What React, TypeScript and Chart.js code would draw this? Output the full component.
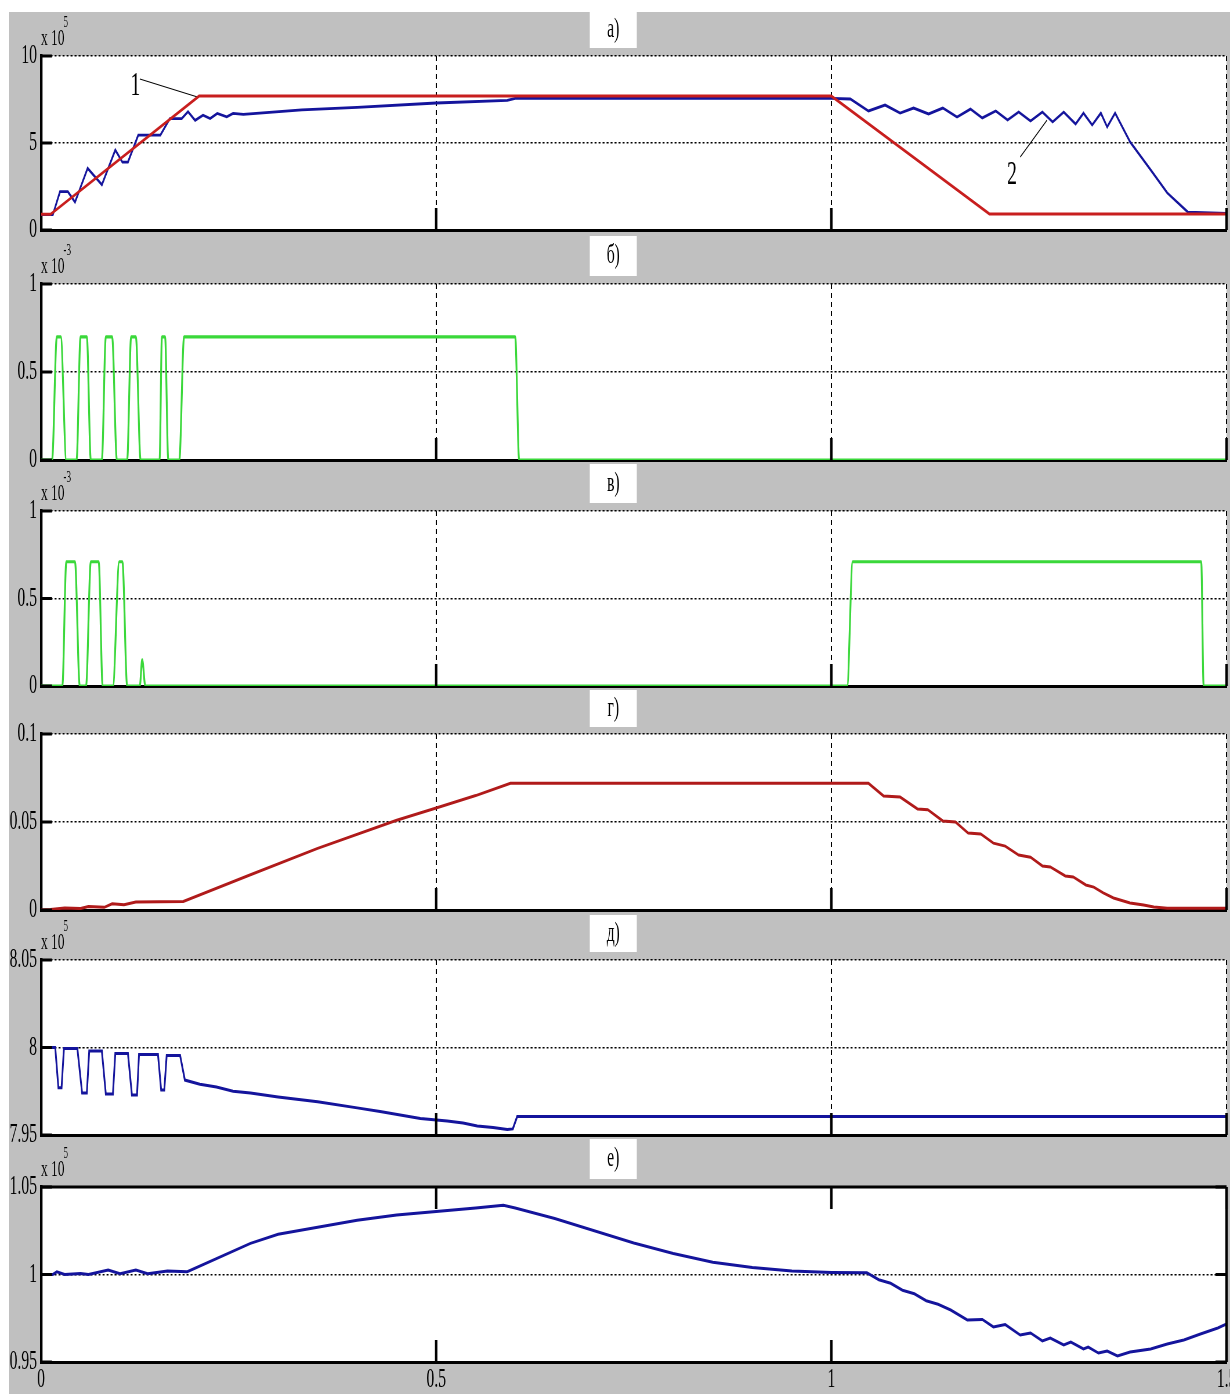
import React, { useEffect, useRef } from 'react';
import { Chart, registerables } from 'chart.js';

Chart.register(...registerables);

// ---------------- data ----------------
const xTickValues = [0, 0.5, 1, 1.5];
const xTickLabels = ['0', '0.5', '1', '1.5'];

// а)
const aTicks = [0, 5, 10];
const aTickLabels = ['0', '5', '10'];
const aRefX = [0, 0.012, 0.2, 1.0, 1.2, 1.5];
const aRefY = [0.9, 0.9, 7.7, 7.7, 0.92, 0.92];
const aRespX = [0, 0.015, 0.024, 0.034, 0.043, 0.059, 0.077, 0.094, 0.103, 0.110, 0.123, 0.151, 0.163, 0.178, 0.186, 0.195, 0.205, 0.214, 0.223, 0.235, 0.243, 0.256, 0.33, 0.4, 0.5, 0.59, 0.6, 1.0,
  1.024, 1.047, 1.068, 1.087, 1.104, 1.123, 1.141, 1.159, 1.176, 1.191, 1.208, 1.223, 1.237, 1.252, 1.267, 1.280, 1.294, 1.309, 1.319, 1.330, 1.341, 1.349, 1.359, 1.378, 1.404, 1.425, 1.451, 1.5];
const aRespY = [0.88, 0.88, 2.2, 2.2, 1.6, 3.55, 2.6, 4.6, 3.9, 3.9, 5.45, 5.45, 6.4, 6.4, 6.8, 6.3, 6.6, 6.4, 6.7, 6.5, 6.7, 6.65, 6.9, 7.05, 7.3, 7.45, 7.57, 7.57,
  7.53, 6.84, 7.18, 6.72, 7.01, 6.67, 7.01, 6.49, 6.95, 6.44, 6.84, 6.32, 6.78, 6.26, 6.78, 6.21, 6.78, 6.09, 6.72, 6.03, 6.72, 5.92, 6.72, 5.06, 3.45, 2.13, 1.03, 0.95];
const aLeader1X = [0.125, 0.197];
const aLeader1Y = [8.68, 7.66];
const aLeader2X = [1.239, 1.273];
const aLeader2Y = [4.2, 6.32];
const aNoteText = ['1', '2'];
const aNoteX = [0.1196, 1.2285];
const aNoteY = [8.28, 3.13];

// б)
const bTicks = [0, 0.5, 1];
const bTickLabels = ['0', '0.5', '1'];
const bX = [0, 0.014, 0.020, 0.025, 0.032, 0.045, 0.050, 0.058, 0.063, 0.077, 0.082, 0.090, 0.096, 0.109, 0.114, 0.120, 0.126, 0.150, 0.153, 0.157, 0.161, 0.175, 0.181, 0.600, 0.605, 1.5];
const bY = [0, 0, 0.7, 0.7, 0, 0, 0.7, 0.7, 0, 0, 0.7, 0.7, 0, 0, 0.7, 0.7, 0, 0, 0.7, 0.7, 0, 0, 0.7, 0.7, 0, 0];

// в)
const cTicks = [0, 0.5, 1];
const cTickLabels = ['0', '0.5', '1'];
const cX = [0, 0.027, 0.032, 0.043, 0.049, 0.057, 0.063, 0.073, 0.078, 0.091, 0.099, 0.103, 0.109, 0.125, 0.128, 0.132, 1.020, 1.027, 1.468, 1.471, 1.5];
const cY = [0, 0, 0.71, 0.71, 0, 0, 0.71, 0.71, 0, 0, 0.71, 0.71, 0, 0, 0.15, 0, 0, 0.71, 0.71, 0, 0];

// г)
const dTicks = [0, 0.05, 0.1];
const dTickLabels = ['0', '0.05', '0.1'];
const dX = [0, 0.012, 0.03, 0.05, 0.06, 0.08, 0.09, 0.105, 0.12, 0.18, 0.265, 0.35, 0.45, 0.5, 0.55, 0.594, 1.047,
  1.066, 1.087, 1.109, 1.122, 1.141, 1.157, 1.173, 1.189, 1.205, 1.220, 1.237, 1.252, 1.267, 1.277, 1.296, 1.306, 1.322, 1.332, 1.344, 1.357, 1.378, 1.395, 1.408, 1.425, 1.5];
const dY = [0, 0.0003, 0.0012, 0.0008, 0.002, 0.0015, 0.0035, 0.003, 0.0045, 0.0048, 0.02, 0.035, 0.051, 0.058, 0.065, 0.072, 0.072,
  0.0648, 0.0642, 0.0574, 0.057, 0.0506, 0.05, 0.0437, 0.0432, 0.038, 0.0363, 0.0312, 0.03, 0.025, 0.0245, 0.0193, 0.0188, 0.0142, 0.013, 0.0097, 0.0068, 0.004, 0.0028, 0.0017, 0.001, 0.001];

// д)
const eTicks = [7.95, 8, 8.05];
const eTickLabels = ['7.95', '8', '8.05'];
const eX = [0, 0.018, 0.022, 0.026, 0.029, 0.046, 0.052, 0.058, 0.061, 0.077, 0.082, 0.091, 0.094, 0.110, 0.115, 0.1215, 0.124, 0.148, 0.152, 0.156, 0.159, 0.176, 0.182,
  0.201, 0.222, 0.243, 0.265, 0.3, 0.35, 0.4, 0.429, 0.48, 0.514, 0.534, 0.552, 0.572, 0.59, 0.597, 0.6025, 1.5];
const eY = [8.0, 8.0, 7.977, 7.977, 7.9994, 7.9994, 7.974, 7.974, 7.998, 7.998, 7.9735, 7.9735, 7.9966, 7.9966, 7.9729, 7.9729, 7.996, 7.996, 7.9757, 7.9757, 7.9954, 7.9954, 7.9814,
  7.979, 7.9774, 7.975, 7.974, 7.9717, 7.969, 7.9655, 7.9634, 7.9594, 7.958, 7.9569, 7.9551, 7.9543, 7.9531, 7.9535, 7.9606, 7.9606];

// е)
const fTicks = [0.95, 1, 1.05];
const fTickLabels = ['0.95', '1', '1.05'];
const fX = [0, 0.015, 0.02, 0.03, 0.05, 0.06, 0.085, 0.1, 0.12, 0.135, 0.16, 0.185, 0.265, 0.3, 0.35, 0.4, 0.45, 0.5, 0.55, 0.585,
  0.6, 0.65, 0.7, 0.75, 0.8, 0.85, 0.9, 0.95, 1.0, 1.045, 1.06, 1.075, 1.09, 1.105, 1.12, 1.135, 1.151, 1.172, 1.191, 1.205,
  1.220, 1.239, 1.252, 1.267, 1.277, 1.294, 1.303, 1.319, 1.325, 1.338, 1.349, 1.362, 1.378, 1.404, 1.425, 1.446, 1.467, 1.489, 1.5];
const fY = [1.0, 1.0, 1.0015, 1.0, 1.0005, 1.0, 1.0025, 1.0005, 1.0025, 1.0005, 1.002, 1.0016, 1.0178, 1.023, 1.027, 1.031, 1.034, 1.036, 1.038, 1.0395,
  1.038, 1.032, 1.025, 1.018, 1.012, 1.007, 1.004, 1.002, 1.0012, 1.001, 0.997, 0.995, 0.991, 0.989, 0.985, 0.983, 0.9797, 0.974, 0.9743, 0.970,
  0.9714, 0.9654, 0.9666, 0.962, 0.9637, 0.9597, 0.9614, 0.9574, 0.9585, 0.9551, 0.9563, 0.9534, 0.9557, 0.9574, 0.9603, 0.9626, 0.966, 0.9694, 0.9717];

// ---------------- layout / style ----------------
const PAGE_W = 1230;
const IW = 2120; // internal canvas width (canvas is squeezed horizontally to PAGE_W)
const K = PAGE_W / IW;
const FONT = "'Liberation Serif', 'Times New Roman', Times, serif";
const FS = 27;
const RED = '#c81e1e';
const DRED = '#b01a1a';
const BLUE = '#14149c';
const GREEN = '#3ad83a';

type Series = { x: number[]; y: number[]; color: string; width: number; smooth?: boolean };
type Note = { text: string[]; x: number[]; y: number[] };
type Panel = {
  title: string;
  boxTop: number; boxBottom: number; plotTop: number; plotBottom: number;
  yMin: number; yMax: number; yTicks: number[]; yLabels: string[];
  exp?: string; box?: boolean; xGrid: boolean;
  series: Series[]; notes?: Note;
};

const panels: Panel[] = [
  {
    title: 'а)', boxTop: 12, boxBottom: 48, plotTop: 56, plotBottom: 230,
    yMin: 0, yMax: 10, yTicks: aTicks, yLabels: aTickLabels, exp: '5', xGrid: true,
    series: [
      { x: aRefX, y: aRefY, color: RED, width: 3 },
      { x: aRespX, y: aRespY, color: BLUE, width: 2.8 },
      { x: aLeader1X, y: aLeader1Y, color: '#000', width: 1.2 },
      { x: aLeader2X, y: aLeader2Y, color: '#000', width: 1.2 },
    ],
    notes: { text: aNoteText, x: aNoteX, y: aNoteY },
  },
  {
    title: 'б)', boxTop: 236, boxBottom: 276, plotTop: 284, plotBottom: 460,
    yMin: 0, yMax: 1, yTicks: bTicks, yLabels: bTickLabels, exp: '-3', xGrid: true,
    series: [{ x: bX, y: bY, color: GREEN, width: 3.2, smooth: true }],
  },
  {
    title: 'в)', boxTop: 464, boxBottom: 503, plotTop: 511, plotBottom: 686,
    yMin: 0, yMax: 1, yTicks: cTicks, yLabels: cTickLabels, exp: '-3', xGrid: true,
    series: [{ x: cX, y: cY, color: GREEN, width: 3.2, smooth: true }],
  },
  {
    title: 'г)', boxTop: 690, boxBottom: 727, plotTop: 734, plotBottom: 910,
    yMin: 0, yMax: 0.1, yTicks: dTicks, yLabels: dTickLabels, xGrid: true,
    series: [{ x: dX, y: dY, color: DRED, width: 3 }],
  },
  {
    title: 'д)', boxTop: 915, boxBottom: 952, plotTop: 960, plotBottom: 1135,
    yMin: 7.95, yMax: 8.05, yTicks: eTicks, yLabels: eTickLabels, exp: '5', xGrid: true,
    series: [{ x: eX, y: eY, color: BLUE, width: 3 }],
  },
  {
    title: 'е)', boxTop: 1139, boxBottom: 1179, plotTop: 1187, plotBottom: 1362,
    yMin: 0.95, yMax: 1.05, yTicks: fTicks, yLabels: fTickLabels, exp: '5', xGrid: false, box: true,
    series: [{ x: fX, y: fY, color: BLUE, width: 3 }],
  },
];

function seg(ctx: CanvasRenderingContext2D, x1: number, y1: number, x2: number, y2: number) {
  ctx.beginPath();
  ctx.moveTo(x1, y1);
  ctx.lineTo(x2, y2);
  ctx.stroke();
}

function makeDeco(p: Panel) {
  return {
    id: 'deco',
    beforeDraw(chart: any) {
      const { ctx, chartArea: a } = chart;
      ctx.save();
      ctx.fillStyle = '#ffffff';
      ctx.fillRect(a.left, a.top, a.right - a.left, a.bottom - a.top);
      const tb = chart.titleBlock;
      if (tb) {
        const cx = (tb.left + tb.right) / 2;
        const w = 47 / K;
        ctx.fillRect(cx - w / 2, tb.top, w, p.boxBottom - p.boxTop);
      }
      ctx.restore();
    },
    afterDatasetsDraw(chart: any) {
      const { ctx, chartArea: a } = chart;
      const xs = chart.scales.x;
      const ys = chart.scales.y;
      ctx.save();
      ctx.strokeStyle = '#000';
      ctx.fillStyle = '#000';
      ctx.lineWidth = 3;
      for (const v of p.yTicks) {
        const py = ys.getPixelForValue(v);
        seg(ctx, a.left, py, a.left + 11 / K, py);
        if (p.box) seg(ctx, a.right, py, a.right - 11 / K, py);
      }
      ctx.lineWidth = 2.5 / K;
      for (const v of xTickValues) {
        if (v === 0) continue;
        const px = xs.getPixelForValue(v);
        seg(ctx, px, a.bottom, px, a.bottom - 22);
        if (p.box) seg(ctx, px, a.top, px, a.top + 22);
      }
      if (p.box) {
        ctx.lineWidth = 3;
        seg(ctx, a.left, a.top, a.right, a.top);
        ctx.lineWidth = 2.5 / K;
        seg(ctx, a.right, a.top, a.right, a.bottom);
      }
      if (p.exp) {
        ctx.textAlign = 'left';
        ctx.textBaseline = 'alphabetic';
        ctx.font = `23px ${FONT}`;
        const base = 'x 10';
        ctx.fillText(base, a.left, a.top - 11);
        const w = ctx.measureText(base).width;
        ctx.font = `16px ${FONT}`;
        ctx.fillText(p.exp, a.left + w - 1 / K, a.top - 29);
      }
      if (p.notes) {
        ctx.font = `34px ${FONT}`;
        ctx.textAlign = 'center';
        ctx.textBaseline = 'middle';
        p.notes.text.forEach((t, i) => {
          ctx.fillText(t, xs.getPixelForValue(p.notes!.x[i]), ys.getPixelForValue(p.notes!.y[i]));
        });
      }
      ctx.restore();
    },
  };
}

function buildConfig(p: Panel, last: boolean): any {
  const titleH = p.plotTop - p.boxTop;
  const boxH = p.boxBottom - p.boxTop;
  const lineH = FS * 1.2;
  const padTop = Math.max(0, (boxH - lineH) / 2);
  const padBottom = Math.max(0, titleH - lineH - padTop);
  return {
    type: 'line',
    data: {
      datasets: p.series.map((s) => ({
        data: s.x.map((x, i) => ({ x, y: s.y[i] })),
        borderColor: s.color,
        borderWidth: s.width,
        pointRadius: 0,
        fill: false,
        tension: 0,
        cubicInterpolationMode: s.smooth ? 'monotone' : 'default',
      })),
    },
    options: {
      animation: false,
      responsive: false,
      devicePixelRatio: 1,
      events: [],
      parsing: false,
      layout: { padding: { left: 0, right: 6, top: 0, bottom: last ? 0 : 16 } },
      plugins: {
        legend: { display: false },
        tooltip: { enabled: false },
        title: {
          display: true,
          text: p.title,
          color: '#000',
          font: { family: FONT, size: FS, weight: 'normal', lineHeight: 1.2 },
          padding: { top: padTop, bottom: padBottom },
        },
      },
      scales: {
        x: {
          type: 'linear',
          min: 0,
          max: 1.5,
          afterBuildTicks: (s: any) => { s.ticks = xTickValues.map((v) => ({ value: v })); },
          ticks: {
            display: last,
            autoSkip: false,
            maxRotation: 0,
            padding: 2,
            color: '#000',
            font: { family: FONT, size: FS },
            callback: (_v: any, i: number) => xTickLabels[i],
          },
          grid: { display: p.xGrid, color: '#000', lineWidth: 2, drawTicks: false },
          border: { display: true, color: '#000', width: 3, dash: [5, 4] },
          afterFit: (s: any) => { s.height = last ? 32 : 0; s.paddingLeft = 0; s.paddingRight = 0; },
        },
        y: {
          type: 'linear',
          min: p.yMin,
          max: p.yMax,
          afterBuildTicks: (s: any) => { s.ticks = p.yTicks.map((v) => ({ value: v })); },
          ticks: {
            autoSkip: false,
            padding: 4 / K,
            color: '#000',
            font: { family: FONT, size: FS },
            callback: (_v: any, i: number) => p.yLabels[i],
          },
          grid: { color: '#000', lineWidth: 1.5, drawTicks: false },
          border: { display: true, color: '#000', width: 2.5 / K, dash: [2 / K, 2 / K] },
          afterFit: (s: any) => { s.width = 41 / K; s.paddingTop = 0; s.paddingBottom = 0; },
        },
      },
    },
    plugins: [makeDeco(p)],
  };
}

function PanelChart({ p, last }: { p: Panel; last: boolean }) {
  const ref = useRef<HTMLCanvasElement>(null);
  const canvasH = (last ? 1394 : p.plotBottom + 16) - p.boxTop;
  useEffect(() => {
    if (!ref.current) return;
    const chart = new Chart(ref.current, buildConfig(p, last));
    return () => chart.destroy();
  }, []);
  return (
    <canvas
      ref={ref}
      width={IW}
      height={canvasH}
      style={{ position: 'absolute', left: 0, top: p.boxTop, width: PAGE_W, height: canvasH }}
    />
  );
}

export default function App() {
  return (
    <div>
      <div style={{ position: 'absolute', left: 9, top: 12, width: PAGE_W - 9, height: 1394 - 12, background: '#c0c0c0' }} />
      {panels.map((p, i) => (
        <PanelChart key={i} p={p} last={i === panels.length - 1} />
      ))}
    </div>
  );
}
